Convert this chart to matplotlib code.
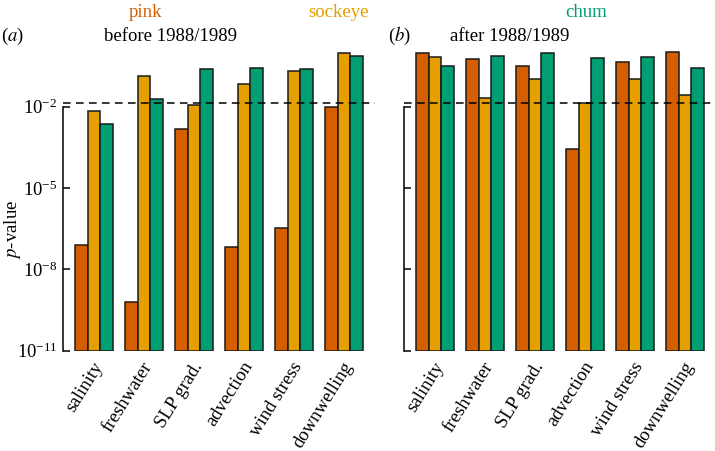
import numpy as np
import matplotlib
matplotlib.use("Agg")
import matplotlib.pyplot as plt

# p-values (log scale)
variables = ["salinity", "freshwater", "SLP grad.", "advection", "wind stress", "downwelling"]
species = ["pink", "sockeye", "chum"]

before_pink = [10**-7.10, 10**-9.22, 10**-2.83, 10**-7.17, 10**-6.49, 10**-2.02]
before_sockeye = [10**-2.16, 10**-0.89, 10**-1.95, 10**-1.16, 10**-0.68, 10**-0.01]
before_chum = [10**-2.65, 10**-1.72, 10**-0.61, 10**-0.58, 10**-0.63, 10**-0.12]

after_pink = [10**-0.03, 10**-0.24, 10**-0.52, 10**-3.56, 10**-0.36, 10**0.02]
after_sockeye = [10**-0.19, 10**-1.67, 10**-0.97, 10**-1.85, 10**-0.97, 10**-1.57]
after_chum = [10**-0.50, 10**-0.12, 10**-0.04, 10**-0.21, 10**-0.19, 10**-0.58]

threshold = 0.014

colors = {"pink": "#D55E00", "sockeye": "#E69F00", "chum": "#009E73"}

plt.rcParams["font.family"] = ["Liberation Serif", "DejaVu Serif"]
plt.rcParams["mathtext.fontset"] = "stix"

BASE = 1e-11


def draw_panel(ax, series, show_labels):
    x = np.arange(len(variables))
    width = 0.25
    for i, (name, vals) in enumerate(zip(species, series)):
        vals = np.array(vals)
        ax.bar(x + (i - 1) * width, vals - BASE, width, bottom=BASE,
               color=colors[name], edgecolor="#1a1a1a", linewidth=1.1)
    ax.axhline(threshold, color="black", linestyle=(0, (5, 3.5)), linewidth=1.1)
    ax.set_yscale("log")
    ax.set_ylim(BASE, 10**0.05)
    ax.set_xlim(-0.62, 5.62)
    ax.set_yticks([1e-11, 1e-8, 1e-5, 1e-2])
    ax.minorticks_off()
    ax.spines["top"].set_visible(False)
    ax.spines["right"].set_visible(False)
    ax.spines["bottom"].set_visible(False)
    ax.spines["left"].set_bounds(1e-11, 1e-2)
    ax.spines["left"].set_linewidth(1.1)
    ax.tick_params(axis="y", direction="in", length=5, width=1.1, labelsize=13.5, pad=4)
    ax.tick_params(axis="x", length=0, pad=9)
    ax.set_xticks(x + 0.1)
    ax.set_xticklabels(variables, rotation=58, ha="right", va="center",
                       rotation_mode="anchor", fontsize=13.5)
    if not show_labels:
        ax.set_yticklabels([])


fig = plt.figure(figsize=(7.15, 4.51), dpi=100)
ax_a = fig.add_axes([0.0881, 0.2224, 0.4364, 0.6646])
ax_b = fig.add_axes([0.5650, 0.2224, 0.4364, 0.6646])

draw_panel(ax_a, [before_pink, before_sockeye, before_chum], True)
draw_panel(ax_b, [after_pink, after_sockeye, after_chum], False)

ax_a.set_ylabel("$p$-value", fontsize=13.5)
ax_a.yaxis.set_label_coords(-0.128, 0.403)

fig.text(0.002, 0.92, "($a$)", fontsize=13.5, va="center", ha="left")
fig.text(0.239, 0.92, "before 1988/1989", fontsize=13.5, va="center", ha="center")
fig.text(0.542, 0.92, "($b$)", fontsize=13.5, va="center", ha="left")
fig.text(0.713, 0.92, "after 1988/1989", fontsize=13.5, va="center", ha="center")

for name, xpos in zip(species, [0.203, 0.473, 0.820]):
    fig.text(xpos, 0.972, name, color=colors[name], fontsize=13.5,
             va="center", ha="center")

fig.savefig("out.png", dpi=100)
